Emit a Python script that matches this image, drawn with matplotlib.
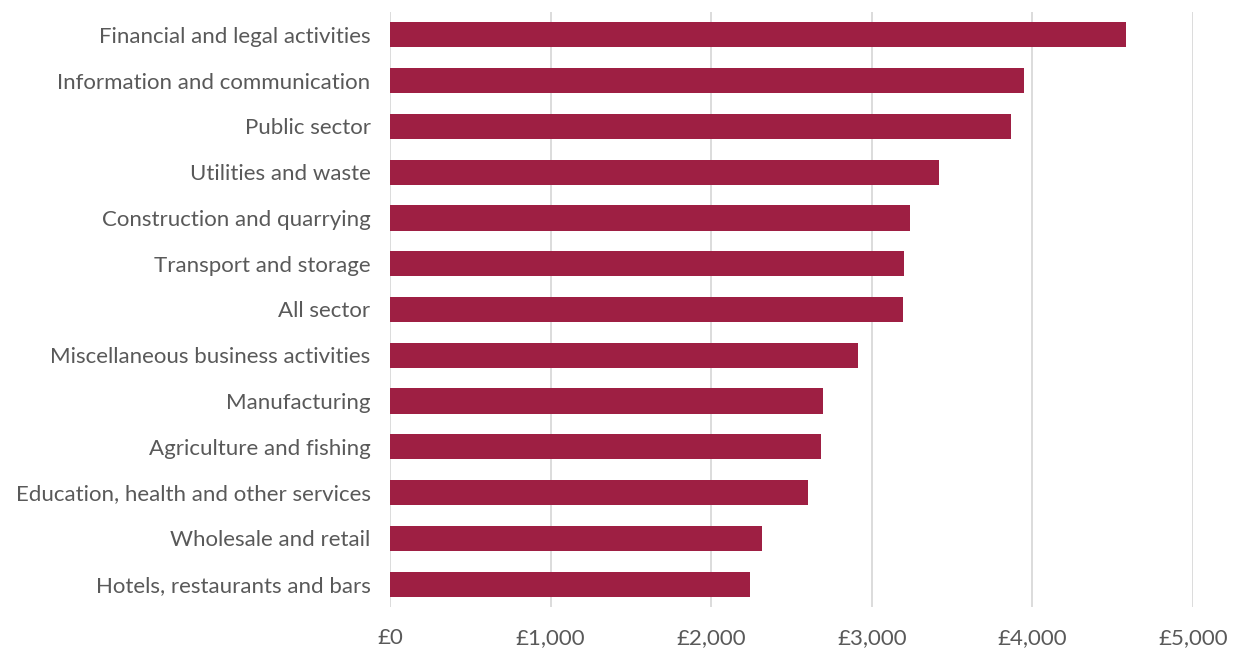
import matplotlib
matplotlib.use("Agg")
import matplotlib.pyplot as plt
from matplotlib.ticker import FuncFormatter

# average monthly pay by sector, top to bottom as drawn
sectors = [
    "Financial and legal activities",
    "Information and communication",
    "Public sector",
    "Utilities and waste",
    "Construction and quarrying",
    "Transport and storage",
    "All sector",
    "Miscellaneous business activities",
    "Manufacturing",
    "Agriculture and fishing",
    "Education, health and other services",
    "Wholesale and retail",
    "Hotels, restaurants and bars",
]
pay = [4583, 3948, 3867, 3418, 3238, 3200, 3194, 2914, 2696, 2684, 2603, 2316, 2242]
x_ticks = [0, 1000, 2000, 3000, 4000, 5000]

plt.rcParams["font.family"] = ["Lato", "DejaVu Sans"]
text_grey = "#595959"

fig = plt.figure(figsize=(12.35, 6.48), dpi=100)
ax = fig.add_axes([0.3158, 0.0633, 0.6502, 0.9182])

positions = list(range(len(sectors)))
ax.barh(positions, pay, height=0.55, color="#9E1F43", zorder=3)

ax.set_ylim(len(sectors) - 0.5, -0.5)
ax.set_xlim(0, 5000)
ax.set_yticks(positions)
ax.set_yticklabels(sectors)
ax.set_xticks(x_ticks)
ax.xaxis.set_major_formatter(FuncFormatter(lambda v, p: f"£{v:,.0f}"))

ax.grid(axis="x", color="#D9D9D9", linewidth=1.3, zorder=0)
for s in ax.spines.values():
    s.set_visible(False)
ax.tick_params(axis="both", length=0, labelsize=16, labelcolor=text_grey)
ax.tick_params(axis="y", pad=14)
ax.tick_params(axis="x", pad=15)

fig.savefig("out.png", dpi=100)
